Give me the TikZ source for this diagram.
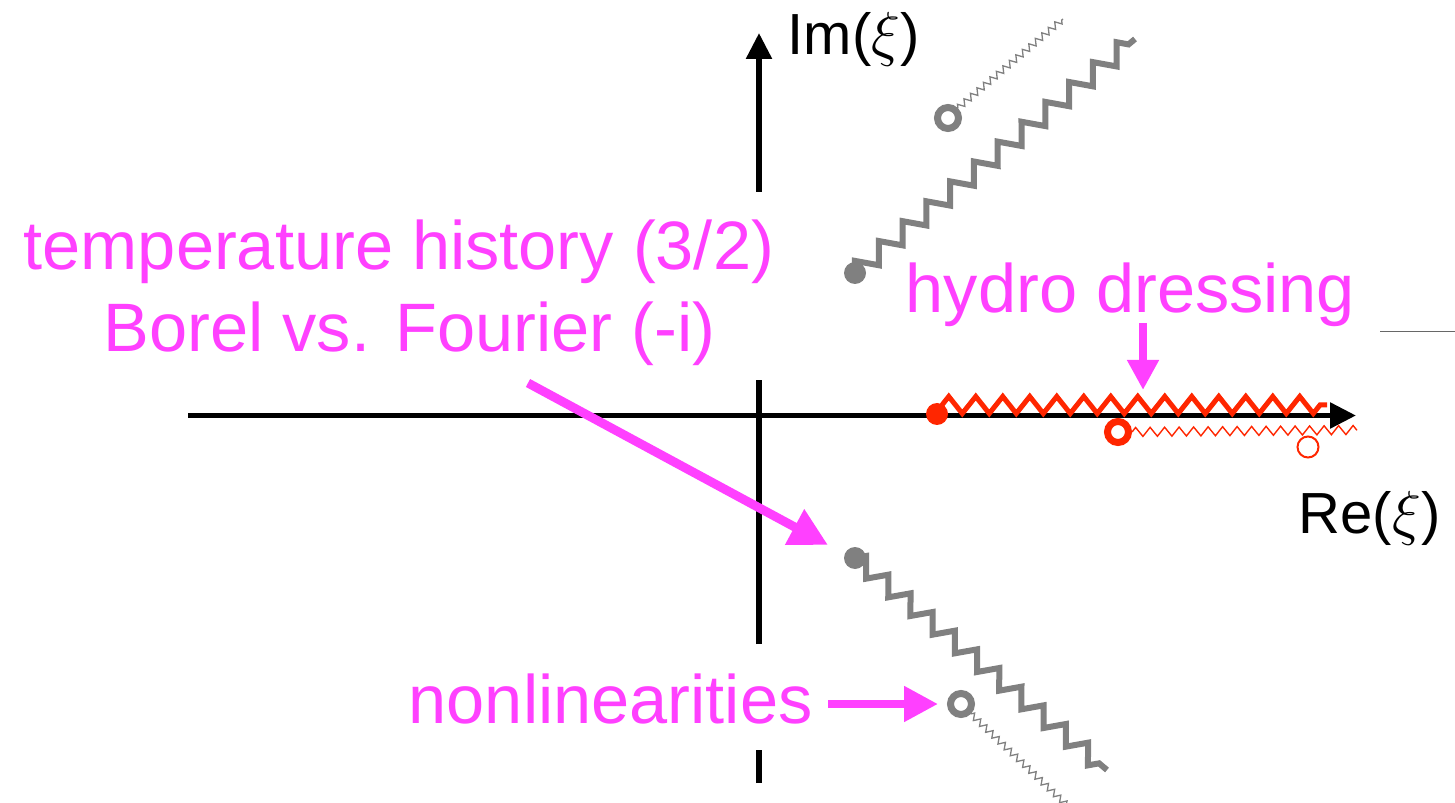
\documentclass[tikz,border=0pt]{standalone}
\usepackage{fontspec}
\setmainfont{Liberation Sans}
\usepackage{tikz}
\usetikzlibrary{arrows.meta,decorations.pathmorphing}

\definecolor{hotpink}{RGB}{255,64,255}
\definecolor{cutred}{RGB}{255,38,0}
\definecolor{cutgray}{RGB}{128,128,128}

\begin{document}
\begin{tikzpicture}[
    axisline/.style={line width=0.055cm},
    axisarrow/.style={line width=0.055cm,-{Triangle[length=0.26cm,width=0.25cm]}},
    axislabel/.style={inner sep=0pt,anchor=base west,font=\fontsize{16.5}{20}\selectfont},
    note/.style={inner sep=0pt,anchor=base west,text=hotpink,font=\fontsize{19.5}{24}\selectfont},
    pinkarrow/.style={hotpink,line width=#1},
    dot/.style={circle,fill=#1,inner sep=0pt,minimum size=0.22cm},
    ring/.style={circle,draw=#1,line width=0.07cm,inner sep=0pt,minimum size=0.21cm},
    thinring/.style={circle,draw=#1,line width=0.02cm,inner sep=0pt,minimum size=0.21cm},
    bigcut/.style={line width=0.06cm,decorate,decoration={zigzag,segment length=#1,amplitude=0.3*#1}},
    smallcut/.style={line width=0.013cm,decorate,decoration={zigzag,segment length=0.085cm,amplitude=0.032cm}}
  ]
  \useasboundingbox (0,0) rectangle (14.55,-8.03);

  % axes
  \draw[axisarrow] (1.88,-4.155) -- (13.56,-4.155);
  \draw[axisarrow] (7.59,-1.92) -- (7.59,-0.33);
  \draw[axisline] (7.59,-6.44) -- (7.59,-3.80);
  \draw[axisline] (7.59,-7.83) -- (7.59,-7.50);
  \node[axislabel] (imlabel) at (7.87,-0.55) {Im($\xi$)};
  \node[axislabel] (relabel) at (12.98,-5.33) {Re($\xi$)};

  % upper gray cuts
  \node[dot=cutgray] (updot) at (8.55,-2.73) {};
  \coordinate (upend) at (11.35,-0.39);
  \draw[cutgray,bigcut=0.31cm] (updot.center) -- (upend);
  \node[ring=cutgray] (upring) at (9.48,-1.18) {};
  \coordinate (upringend) at (10.63,-0.19);
  \draw[cutgray,smallcut] (upring.north east) -- (upringend);

  % lower gray cuts
  \node[dot=cutgray] (lowdot) at (8.55,-5.58) {};
  \coordinate (lowend) at (11.07,-7.70);
  \draw[cutgray,bigcut=0.29cm] (lowdot.center) -- (lowend);
  \node[ring=cutgray] (lowring) at (9.61,-7.04) {};
  \coordinate (lowringend) at (10.75,-8.13);
  \draw[cutgray,smallcut] (lowring.south east) -- (lowringend);

  % red cuts on the real axis
  \node[dot=cutred] (reddot) at (9.37,-4.14) {};
  \coordinate (redend) at (13.27,-4.05);
  \draw[cutred,line width=0.05cm,decorate,decoration={zigzag,segment length=0.27cm,amplitude=0.085cm}]
    (9.42,-4.05) -- (redend);
  \node[ring=cutred] (redring) at (11.18,-4.32) {};
  \coordinate (redringend) at (13.57,-4.30);
  \draw[cutred,line width=0.014cm,decorate,decoration={zigzag,segment length=0.145cm,amplitude=0.045cm}]
    (redring.east) -- (redringend);
  \node[thinring=cutred] (redsmall) at (13.08,-4.47) {};

  % stray rule
  \coordinate (rulea) at (13.80,-3.32);
  \coordinate (ruleb) at (14.55,-3.32);
  \draw[cutgray!80!black,line width=0.01cm] (rulea) -- (ruleb);

  % annotations
  \node[note] (temphist) at (0.23,-2.70) {temperature history (3/2)};
  \node[note] (borel) at (1.03,-3.52) {Borel vs. Fourier (-i)};
  \node[note] (hydro) at (9.05,-3.13) {hydro dressing};
  \node[note] (nonlin) at (4.08,-7.23) {nonlinearities};

  \coordinate (borelfoot) at (5.28,-3.83);
  \coordinate (borelhead) at (8.28,-5.45);
  \draw[pinkarrow=0.09cm,-{Triangle[length=0.38cm,width=0.38cm]}] (borelfoot) -- (borelhead);
  \coordinate (hydrofoot) at (11.43,-3.23);
  \coordinate (hydrohead) at (11.43,-3.90);
  \draw[pinkarrow=0.075cm,-{Triangle[length=0.30cm,width=0.30cm]}] (hydrofoot) -- (hydrohead);
  \coordinate (nonlinfoot) at (8.28,-7.04);
  \coordinate (nonlinhead) at (9.38,-7.04);
  \draw[pinkarrow=0.08cm,-{Triangle[length=0.34cm,width=0.34cm]}] (nonlinfoot) -- (nonlinhead);
\end{tikzpicture}
\end{document}
